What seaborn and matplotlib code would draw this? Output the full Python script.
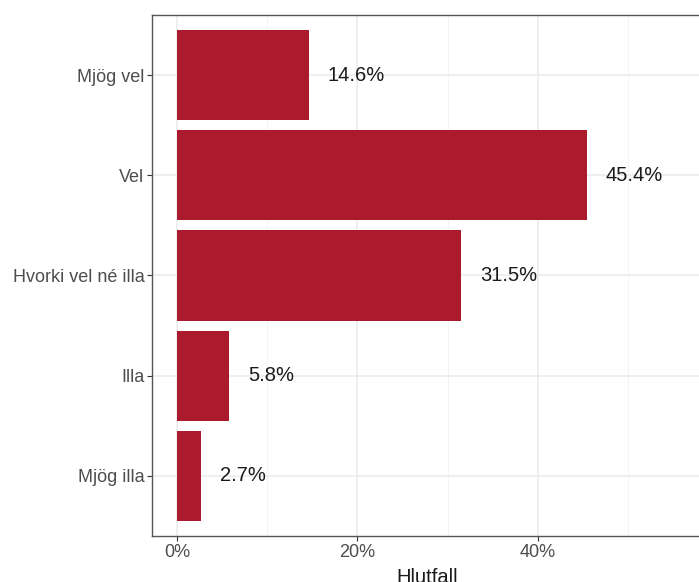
import numpy as np
import pandas as pd
import matplotlib.pyplot as plt
import seaborn as sns
from matplotlib.ticker import MultipleLocator, FuncFormatter

categories = ["Mjög vel", "Vel", "Hvorki vel né illa", "Illa", "Mjög illa"]
shares = [14.6, 45.4, 31.5, 5.8, 2.7]
labels = ["14.6%", "45.4%", "31.5%", "5.8%", "2.7%"]

bar_color = "#AB1A2D"

sns.set_style("white")
plt.rcParams['font.family'] = ['Liberation Sans', 'DejaVu Sans']

df = pd.DataFrame({"svar": categories, "hlutfall": shares})

fig = plt.figure(figsize=(6.99, 5.82), dpi=100)
W, H = 699, 582
ax = fig.add_axes([152 / W, 1 - 536 / H, (702 - 152) / W, (536 - 15) / H])

sns.barplot(data=df, y="svar", x="hlutfall", order=categories, orient="h",
            color=bar_color, saturation=1, width=0.9, linewidth=0, ax=ax, zorder=3)

for i, (v, lab) in enumerate(zip(shares, labels)):
    ax.text(v + 2.1, i, lab, ha="left", va="center", fontsize=14.5,
            color="#1a1a1a", zorder=4)

ax.set_xlim(-2.77, 58.2)
ax.set_ylim(4.6, -0.6)

ax.xaxis.set_major_locator(MultipleLocator(20))
ax.xaxis.set_minor_locator(MultipleLocator(10))
ax.xaxis.set_major_formatter(FuncFormatter(lambda x, p: f"{x:.0f}%"))

ax.grid(True, which="major", color="#EBEBEB", linewidth=1.1, zorder=0)
ax.grid(True, which="minor", axis="x", color="#F2F2F2", linewidth=0.6, zorder=0)
ax.set_axisbelow(True)

for s in ax.spines.values():
    s.set_color("#555555")
    s.set_linewidth(1.0)

ax.tick_params(axis="both", which="major", length=3.5, width=0.8, color="#333333",
               labelcolor="#4D4D4D", labelsize=13, pad=2, bottom=True, left=True)
ax.tick_params(axis="x", which="minor", length=0)

ax.set_ylabel("")
ax.set_xlabel("Hlutfall", fontsize=14.5, color="#1a1a1a", labelpad=5)

fig.savefig("out.png", dpi=100)
